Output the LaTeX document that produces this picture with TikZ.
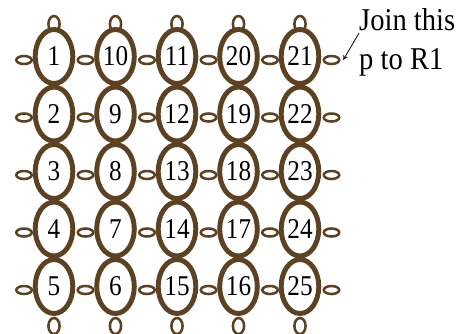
\documentclass[tikz,border=0pt]{standalone}
\usepackage{fontspec}
\setmainfont{Liberation Serif}
\usetikzlibrary{shapes.geometric}
\definecolor{beadbrown}{RGB}{92,66,34}
\tikzset{
  bead/.style={ellipse, draw=beadbrown, line width=3.7pt, fill=white,
    minimum width=28.2pt, minimum height=40.5pt, inner sep=0pt,
    font=\fontsize{21.5}{25}\selectfont},
  hloop/.style={ellipse, draw=beadbrown, line width=1.9pt, fill=white,
    minimum width=11.6pt, minimum height=6pt, inner sep=0pt},
  vloop/.style={ellipse, draw=beadbrown, line width=1.9pt, fill=white,
    minimum width=8.4pt, minimum height=12pt, inner sep=0pt},
}
\begin{document}
\begin{tikzpicture}[x=0.75pt,y=-0.75pt]
\useasboundingbox (0,0) rectangle (472,333);

% small loops between the beads
\foreach \r in {1,...,5} {
  \foreach \c in {0,...,5} {
    \node[hloop] (loop-\r-\c) at ({24+61.5*\c},{60+57.5*(\r-1)}) {};
  }
}
\foreach \c in {1,...,5} {
  \node[vloop] (top-\c) at ({54+61.5*(\c-1)},24) {};
  \node[vloop] (bot-\c) at ({54+61.5*(\c-1)},326) {};
}

% numbered beads, snaking down and up the columns
\foreach \c in {1,...,5} {
  \foreach \r in {1,...,5} {
    \pgfmathtruncatemacro{\n}{(mod(\c,2)==1 ? 5*(\c-1)+\r : 5*\c+1-\r)}
    \node[bead] (b\n) at ({54+61.5*(\c-1)},{56.5+57.5*(\r-1)}) {\scalebox{0.88}[1]{\n}};
  }
}

\node[anchor=north west, inner sep=0pt, align=left, xscale=0.9, transform shape,
  font=\fontsize{23.8}{28.9}\selectfont] (note) at (359,8.5) {Join this\\p to R1};
\draw[-stealth, line width=0.6pt] ([yshift=7pt]note.west) -- ([xshift=2pt]loop-1-5.east);

\end{tikzpicture}
\end{document}
